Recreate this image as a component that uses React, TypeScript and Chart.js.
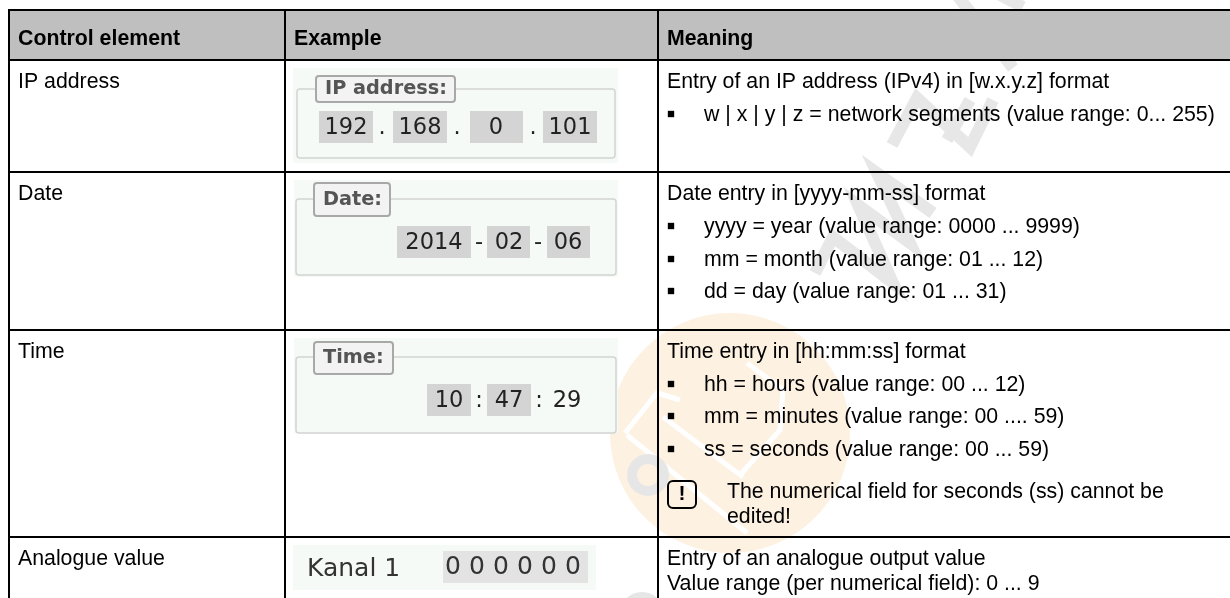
import React, { useEffect, useRef } from "react";
import { Chart, registerables } from "chart.js";

Chart.register(...registerables);

const columnHeaders = ["Control element", "Example", "Meaning"];
const controlElements = ["IP address", "Date", "Time", "Analogue value"];
const meaningIntro = [
  "Entry of an IP address (IPv4) in [w.x.y.z] format",
  "Date entry in [yyyy-mm-ss] format",
  "Time entry in [hh:mm:ss] format",
  "Entry of an analogue output value",
];
const bulletTexts = [
  "w | x | y | z = network segments (value range: 0... 255)",
  "yyyy = year (value range: 0000 ... 9999)",
  "mm = month (value range: 01 ... 12)",
  "dd = day (value range: 01 ... 31)",
  "hh = hours (value range: 00 ... 12)",
  "mm = minutes (value range: 00 .... 59)",
  "ss = seconds (value range: 00 ... 59)",
];
const noteLines = ["The numerical field for seconds (ss) cannot be", "edited!"];
const analogueRange = "Value range (per numerical field): 0 ... 9";

const columnEdges = [9, 285, 658];
const rowEdges = [10, 60, 172, 330, 537];
const introRows = [81, 193, 351, 558];
const bulletRows = [114, 226, 259, 291, 384, 416, 449];
const noteRows = [491, 516];
const analogueRow = 583;

const xLeft = 8;
const yTop = 9;
const headerY = 38;
const textNudge = 1;
const sans = '"Liberation Sans", Arial, sans-serif';
const deja = '"DejaVu Sans", sans-serif';
const bodyFont = `21.3px ${sans}`;

type Widget = {
  panel: number[];
  field: number[];
  label: number[];
  title: string;
  boxes: number[][];
  parts: [string, number][];
  y: number;
};

const widgets: Widget[] = [
  {
    panel: [293, 68, 618, 163],
    field: [297, 89, 615, 158],
    label: [316, 76, 455, 102],
    title: "IP address:",
    boxes: [[319, 373], [393, 447], [470, 523], [543, 597]],
    parts: [["192", 346], [".", 382], ["168", 420], [".", 457], ["0", 496], [".", 533], ["101", 570]],
    y: 127,
  },
  {
    panel: [294, 180, 618, 277],
    field: [296, 199, 616, 275],
    label: [314, 183, 390, 216],
    title: "Date:",
    boxes: [[397, 471], [487, 530], [547, 590]],
    parts: [["2014", 434], ["-", 479], ["02", 509], ["-", 538], ["06", 568]],
    y: 242,
  },
  {
    panel: [294, 338, 618, 433],
    field: [296, 357, 616, 433],
    label: [314, 342, 393, 374],
    title: "Time:",
    boxes: [[427, 471], [487, 531]],
    parts: [["10", 449], [":", 479], ["47", 509], [":", 539], ["29", 567]],
    y: 400,
  },
];

const wLetters = [
  [[815, 273], [833, 237], [893, 283], [858, 205], [910, 243], [877, 173], [933, 213]],
  [[892, 145], [917, 98], [970, 147], [993, 100]],
  [[947, 140], [970, 100]],
  [[957, -5], [1013, 68]],
  [[1000, -5], [1023, 7]],
];
const logoCuts = [
  [[625, 433], [657, 393], [680, 400]],
  [[627, 435], [747, 533]],
  [[663, 417], [743, 477]],
  [[747, 363], [783, 390], [780, 430], [740, 475]],
];

function rr(ctx: CanvasRenderingContext2D, a: number, b: number, c: number, d: number, r: number) {
  ctx.beginPath();
  ctx.roundRect(a, b, c - a, d - b, r);
}

const tablePlugin = {
  id: "tablePlugin",
  beforeDraw(chart: any) {
    const { ctx, scales } = chart;
    const X = (v: number) => scales.x.getPixelForValue(v);
    const Y = (v: number) => scales.y.getPixelForValue(v);
    ctx.save();
    ctx.fillStyle = "#fff";
    ctx.fillRect(0, 0, chart.width, chart.height);
    ctx.strokeStyle = "#e7e7e7";
    ctx.lineWidth = 12;
    ctx.lineJoin = "miter";
    for (const w of wLetters) {
      ctx.beginPath();
      w.forEach((p, i) => (i ? ctx.lineTo(X(p[0]), Y(p[1])) : ctx.moveTo(X(p[0]), Y(p[1]))));
      ctx.stroke();
    }
    ctx.fillStyle = "#fdf1e2";
    ctx.beginPath();
    ctx.arc(X(730), Y(433), 120, 0, Math.PI * 2);
    ctx.fill();
    ctx.strokeStyle = "#fff";
    ctx.lineWidth = 5;
    for (const w of logoCuts) {
      ctx.beginPath();
      w.forEach((p, i) => (i ? ctx.lineTo(X(p[0]), Y(p[1])) : ctx.moveTo(X(p[0]), Y(p[1]))));
      ctx.stroke();
    }
    ctx.strokeStyle = "#e6e6e6";
    ctx.lineWidth = 10;
    ctx.beginPath();
    ctx.arc(X(648), Y(475), 16, 0, Math.PI * 2);
    ctx.stroke();
    ctx.beginPath();
    ctx.arc(X(642), Y(615), 18, 0, Math.PI * 2);
    ctx.stroke();
    ctx.fillStyle = "#bfbfbf";
    ctx.fillRect(X(columnEdges[0]), Y(rowEdges[0]), X(1230) - X(columnEdges[0]), Y(rowEdges[1]) - Y(rowEdges[0]));
    ctx.filter = "blur(0.6px)";
    for (const w of widgets) {
      ctx.fillStyle = "#f6faf7";
      ctx.fillRect(w.panel[0], w.panel[1], w.panel[2] - w.panel[0], w.panel[3] - w.panel[1]);
      ctx.strokeStyle = "#d2d4d2";
      ctx.lineWidth = 1.5;
      rr(ctx, w.field[0], w.field[1], w.field[2], w.field[3], 3);
      ctx.stroke();
      ctx.fillStyle = "#f3f3f3";
      ctx.strokeStyle = "#a8a8a8";
      ctx.lineWidth = 2;
      rr(ctx, w.label[0], w.label[1], w.label[2], w.label[3], 3);
      ctx.fill();
      ctx.stroke();
      ctx.fillStyle = "#555";
      ctx.font = `bold 19.3px ${deja}`;
      ctx.textAlign = "left";
      ctx.textBaseline = "middle";
      ctx.fillText(w.title, w.label[0] + 9, (w.label[1] + w.label[3]) / 2);
      ctx.fillStyle = "#d4d4d4";
      for (const b of w.boxes) ctx.fillRect(b[0], w.y - 16, b[1] - b[0], 32);
      ctx.fillStyle = "#222";
      ctx.font = `22.5px ${deja}`;
      ctx.textAlign = "center";
      for (const [t, x] of w.parts) ctx.fillText(t, x, w.y + 1);
    }
    ctx.fillStyle = "#f6faf7";
    ctx.fillRect(293, 545, 303, 45);
    ctx.fillStyle = "#e3e3e3";
    ctx.fillRect(443, 551, 145, 32);
    ctx.fillStyle = "#333";
    ctx.font = `25px ${deja}`;
    ctx.textAlign = "left";
    ctx.textBaseline = "middle";
    ctx.fillText("Kanal 1", 307, 569);
    ctx.textAlign = "center";
    ["0", "0", "0", "0", "0", "0"].forEach((d, i) => ctx.fillText(d, 453 + i * 24, 567));
    ctx.filter = "none";
    ctx.restore();
  },
  afterDatasetsDraw(chart: any) {
    const { ctx, scales } = chart;
    const X = (v: number) => scales.x.getPixelForValue(v);
    const Y = (v: number) => scales.y.getPixelForValue(v) + textNudge;
    ctx.save();
    ctx.filter = "blur(0.3px)";
    ctx.textBaseline = "middle";
    ctx.textAlign = "left";
    ctx.fillStyle = "#000";
    ctx.font = `bold ${bodyFont}`;
    columnHeaders.forEach((t, i) => ctx.fillText(t, X(columnEdges[i]) + 9, Y(headerY)));
    ctx.font = bodyFont;
    controlElements.forEach((t, i) => ctx.fillText(t, X(columnEdges[0]) + 9, Y(introRows[i])));
    meaningIntro.forEach((t, i) => ctx.fillText(t, X(columnEdges[2]) + 9, Y(introRows[i])));
    bulletTexts.forEach((t, i) => ctx.fillText(t, X(704), Y(bulletRows[i])));
    noteLines.forEach((t, i) => ctx.fillText(t, X(727), Y(noteRows[i])));
    ctx.fillText(analogueRange, X(columnEdges[2]) + 9, Y(analogueRow));
    ctx.lineWidth = 2;
    ctx.strokeStyle = "#000";
    rr(ctx, X(668), Y(480), X(696), Y(507), 5);
    ctx.stroke();
    ctx.font = `bold 21px ${sans}`;
    ctx.textAlign = "center";
    ctx.fillText("!", X(682), Y(493));
    ctx.restore();
  },
};

export default function App() {
  const ref = useRef<HTMLCanvasElement>(null);
  useEffect(() => {
    const chart = new Chart(ref.current!, {
      type: "scatter",
      data: {
        datasets: [
          {
            label: "bullets",
            data: bulletRows.map((y) => ({ x: 671, y })),
            pointStyle: "rect",
            pointRadius: 4.5,
            backgroundColor: "#000",
            borderWidth: 0,
          },
        ],
      },
      options: {
        responsive: false,
        animation: false,
        devicePixelRatio: 1,
        layout: { autoPadding: false, padding: { left: xLeft, top: yTop, right: 0, bottom: 0 } },
        plugins: { legend: { display: false }, tooltip: { enabled: false }, title: { display: false } },
        scales: {
          x: {
            type: "linear",
            min: xLeft,
            max: 1230,
            afterBuildTicks: (s: any) => {
              s.ticks = columnEdges.map((value) => ({ value }));
            },
            ticks: { display: false, autoSkip: false },
            border: { display: false },
            grid: { color: "#000", lineWidth: 2, drawTicks: false },
          },
          y: {
            type: "linear",
            reverse: true,
            min: yTop,
            max: 598,
            afterBuildTicks: (s: any) => {
              s.ticks = rowEdges.map((value) => ({ value }));
            },
            ticks: { display: false, autoSkip: false },
            border: { display: false },
            grid: { color: "#000", lineWidth: 2, drawTicks: false },
          },
        },
      },
      plugins: [tablePlugin],
    } as any);
    return () => chart.destroy();
  }, []);
  return (
    <canvas
      ref={ref}
      width={1230}
      height={598}
      style={{ position: "fixed", left: 0, top: 0, display: "block", width: 1230, height: 598 }}
    />
  );
}
